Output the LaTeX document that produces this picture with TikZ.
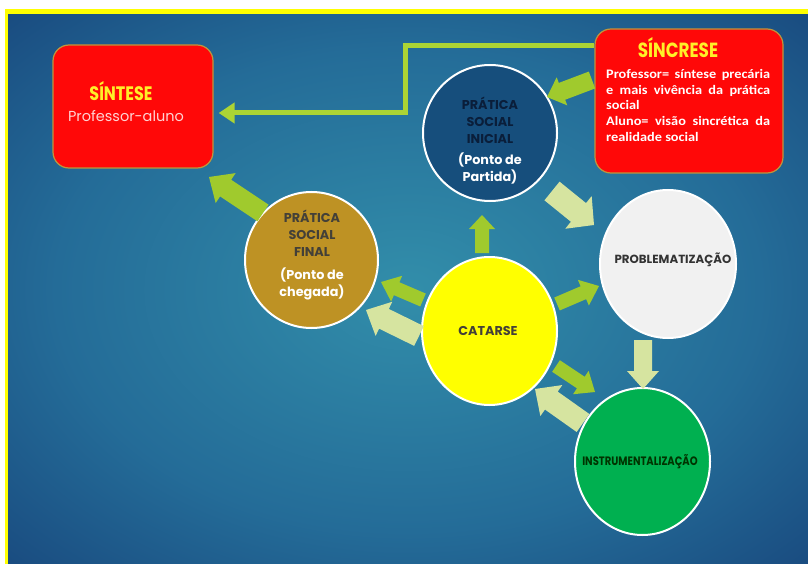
\documentclass[tikz,border=0pt]{standalone}
\usepackage{fontspec}
\setmainfont{Carlito}
\newfontfamily\widecal[FakeStretch=1.1]{Carlito}
\newfontfamily\geo{Poppins}
\newfontfamily\geonarrow[FakeStretch=0.82]{Poppins}
\usetikzlibrary{shapes.geometric,calc,arrows.meta}
\setlength\parindent{0pt}
\definecolor{bgin}{RGB}{50,142,170}
\definecolor{bgmid}{RGB}{36,108,152}
\definecolor{bgout}{RGB}{16,46,106}
\definecolor{frameyel}{RGB}{255,255,0}
\definecolor{boxred}{RGB}{255,8,8}
\definecolor{boxedge}{RGB}{190,150,60}
\definecolor{titleyel}{RGB}{255,240,40}
\definecolor{pinkw}{RGB}{255,210,210}
\definecolor{inicialfill}{RGB}{22,78,124}
\definecolor{navytxt}{RGB}{10,30,58}
\definecolor{goldfill}{RGB}{190,146,36}
\definecolor{probfill}{RGB}{241,241,241}
\definecolor{catyel}{RGB}{255,255,0}
\definecolor{instrfill}{RGB}{0,176,80}
\definecolor{agreen}{RGB}{160,202,45}
\definecolor{apale}{RGB}{214,228,160}
\definecolor{linegreen}{RGB}{172,212,52}
\pgfdeclareradialshading{bgshade}{\pgfpoint{0bp}{0bp}}{color(0bp)=(bgin); color(22bp)=(bgmid); color(48bp)=(bgout); color(50bp)=(bgout)}
\newcommand\blockarrow[6]{%
  \coordinate (bah) at ($(#3)!#6!(#2)$);
  \fill[#1] ($(#2)!#4!90:(#3)$) -- ($(bah)!#4!90:(#3)$) -- ($(bah)!#5!90:(#3)$) -- (#3)
    -- ($(bah)!#5!-90:(#3)$) -- ($(bah)!#4!-90:(#3)$) -- ($(#2)!#4!-90:(#3)$) -- cycle;}
\begin{document}
\begin{tikzpicture}[x=1pt,y=-1pt,
  circ/.style={ellipse, draw=white, line width=2pt, inner sep=0},
  rbox/.style={rectangle, rounded corners=16pt, fill=boxred, draw=boxedge, line width=1.2pt, inner sep=0},
  ctitle/.style={font=\geo\bfseries\fontsize{12.8}{17}\selectfont, align=center, inner sep=0},
  conn/.style={draw=linegreen, line width=5pt, -{Triangle[length=16pt,width=20pt]}, shorten >=5pt}]
\useasboundingbox (0,0) rectangle (808,564);
\fill[white] (0,0) rectangle (808,564);
\fill[frameyel] (5,9) rectangle (808,564);
\shade[shading=bgshade] (8,15) rectangle (808,564);

% boxes
\node[rbox, minimum width=160pt, minimum height=123pt] (sintese) at (133,106.5) {};
\node[rbox, minimum width=188pt, minimum height=144pt] (sincrese) at (689,101) {};
\node[font=\geonarrow\bfseries\fontsize{19.5}{19.5}\selectfont, text=titleyel, inner sep=0] (sintesetitle) at (121,91) {SÍNTESE};
\node[font=\geo\fontsize{14.5}{14.5}\selectfont, text=pinkw, inner sep=0] (sintesesub) at (126,116) {Professor-aluno};
\node[font=\geonarrow\bfseries\fontsize{20.5}{20.5}\selectfont, text=titleyel, inner sep=0] (sincretitle) at (678,48) {SÍNCRESE};
\node[anchor=north west, text width=164pt, inner sep=0, align=justify, text=white,
  font=\widecal\bfseries\fontsize{13}{15.8}\selectfont] (sincretxt) at (606,69)
  {Professor= síntese precária\linebreak e mais vivência da prática\linebreak social\par
   Aluno= visão sincrética da\linebreak realidade social};

% connector
\coordinate (c1) at (405,46);
\coordinate (c2) at (405,113);
\draw[conn] (sincrese.west |- c1) -- (c1) -- (c2) -- (sintese.east |- c2);

% circles
\node[circ, fill=inicialfill, minimum width=134pt, minimum height=136pt] (inicial) at (490,133) {};
\node[circ, fill=goldfill, minimum width=133pt, minimum height=136pt] (final) at (311.5,260) {};
\node[circ, fill=probfill, minimum width=136pt, minimum height=148pt] (prob) at (668,264) {};
\node[circ, fill=catyel, minimum width=135pt, minimum height=148pt] (catarse) at (489.5,331) {};
\node[circ, fill=instrfill, minimum width=135pt, minimum height=147pt] (instr) at (642.5,461.5) {};

\node[ctitle, text=navytxt] (inicialt) at (490,120) {PRÁTICA\\SOCIAL\\INICIAL};
\node[ctitle, text=white] (inicials) at (490,168) {(Ponto de\\Partida)};
\node[ctitle, text=black!85!yellow] (finalt) at (312,233) {PRÁTICA\\SOCIAL\\FINAL};
\node[ctitle, text=white] (finals) at (312,284) {(Ponto de\\chegada)};
\node[ctitle, font=\geo\bfseries\fontsize{11.8}{14}\selectfont, text=black!80] (probt) at (673,260) {PROBLEMATIZAÇÃO};
\node[ctitle, text=black!85!yellow] (catt) at (488,331) {CATARSE};
\node[font=\geonarrow\bfseries\fontsize{12.2}{14}\selectfont, inner sep=0, text=black!80!green] (instrt) at (640,462) {INSTRUMENTALIZAÇÃO};

% block arrows
\coordinate (g1a) at (592,80);  \coordinate (g1b) at (547,97);
\blockarrow{agreen}{g1a}{g1b}{9pt}{15pt}{16pt}
\coordinate (g2a) at (263,213); \coordinate (g2b) at (209,177);
\blockarrow{agreen}{g2a}{g2b}{10pt}{18pt}{20pt}
\coordinate (g3a) at (482,253); \coordinate (g3b) at (482,215);
\blockarrow{agreen}{g3a}{g3b}{7pt}{13pt}{14pt}
\coordinate (g4a) at (423,300); \coordinate (g4b) at (381,282);
\blockarrow{agreen}{g4a}{g4b}{7pt}{14pt}{17pt}
\coordinate (g5a) at (557,304); \coordinate (g5b) at (599,286);
\blockarrow{agreen}{g5a}{g5b}{7pt}{14pt}{17pt}
\coordinate (g6a) at (556,366); \coordinate (g6b) at (595,392);
\blockarrow{agreen}{g6a}{g6b}{7pt}{14pt}{17pt}
\coordinate (p1a) at (552,191); \coordinate (p1b) at (594,225);
\blockarrow{apale}{p1a}{p1b}{12pt}{21pt}{20pt}
\coordinate (p2a) at (643,340); \coordinate (p2b) at (643,389);
\blockarrow{apale}{p2a}{p2b}{9pt}{16pt}{18pt}
\coordinate (p3a) at (583,423); \coordinate (p3b) at (535,389);
\blockarrow{apale}{p3a}{p3b}{11pt}{19pt}{20pt}
\coordinate (p4a) at (419,336); \coordinate (p4b) at (366,310);
\blockarrow{apale}{p4a}{p4b}{11pt}{19pt}{20pt}
\end{tikzpicture}
\end{document}
